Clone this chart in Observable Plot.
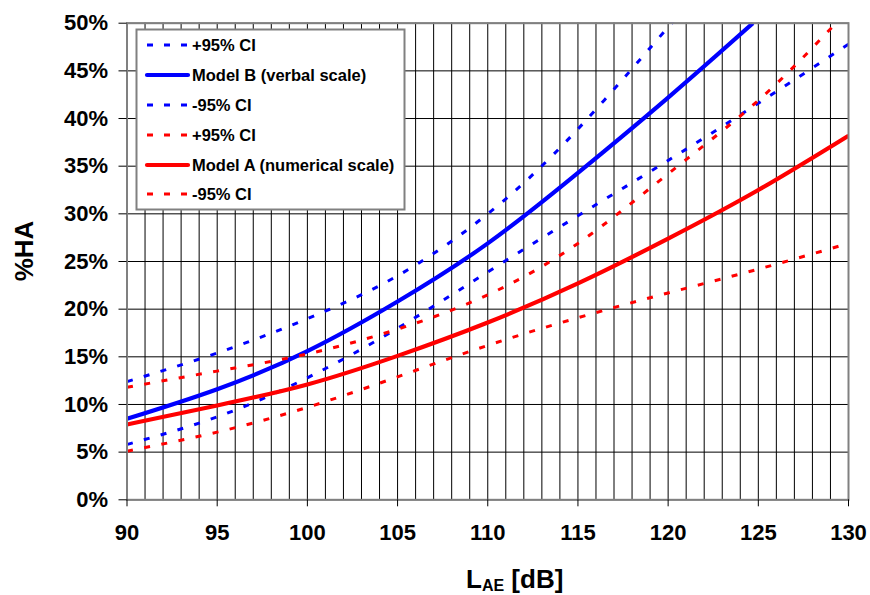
<!DOCTYPE html>
<html>
<head>
<meta charset="utf-8">
<script src="https://cdn.jsdelivr.net/npm/d3@7"></script>
<script src="https://cdn.jsdelivr.net/npm/@observablehq/plot@0.6"></script>
<style>
  html, body { margin: 0; padding: 0; background: #fff; }
  #chart svg { display: block; }
</style>
</head>
<body>
<div id="chart"></div>
<script>
// ---- data (L_AE in dB, %HA in percent) ----
const xTicks = [90, 95, 100, 105, 110, 115, 120, 125, 130];
const yTicks = [0, 5, 10, 15, 20, 25, 30, 35, 40, 45, 50];

const xBUpper = [90, 95, 100, 105, 110, 115, 120, 120.2];
const bUpper  = [12.4, 15.4, 19.0, 23.5, 30.0, 38.9, 49.6, 50.0];

const xBModel = [90, 95, 100, 105, 110, 115, 120, 124.7];
const bModel  = [8.5, 11.6, 15.6, 20.8, 26.9, 34.3, 42.2, 50.0];

const xBLower = [90, 95, 100, 105, 110, 115, 120, 125, 130];
const bLower  = [5.8, 8.7, 12.8, 18.0, 23.9, 29.8, 35.6, 41.6, 47.8];

const xAUpper = [90, 95, 100, 105, 110, 115, 120, 125, 129.3];
const aUpper  = [11.8, 13.5, 15.3, 17.9, 21.5, 26.9, 34.2, 41.9, 50.0];

const xAModel = [90, 95, 100, 105, 110, 115, 120, 125, 130];
const aModel  = [7.9, 9.9, 12.1, 15.1, 18.6, 22.7, 27.4, 32.5, 38.2];

const xALower = [90, 95, 100, 105, 110, 115, 120, 125, 130];
const aLower  = [5.1, 7.1, 9.7, 12.9, 16.2, 19.1, 21.7, 24.2, 26.9];

const legendLabels = ["+95% CI", "Model B (verbal scale)", "-95% CI", "+95% CI", "Model A (numerical scale)", "-95% CI"];
const legendColors = ["#0000ff", "#0000ff", "#0000ff", "#ff0000", "#ff0000", "#ff0000"];
const legendDashed = [true, false, true, true, false, true];

// ---- build tables ----
const toRows = (xs, ys) => xs.map((x, i) => ({x, y: ys[i]}));
const series = [
  {rows: toRows(xBUpper, bUpper), color: "#0000ff", dashed: true},
  {rows: toRows(xBModel, bModel), color: "#0000ff", dashed: false},
  {rows: toRows(xBLower, bLower), color: "#0000ff", dashed: true},
  {rows: toRows(xAUpper, aUpper), color: "#ff0000", dashed: true},
  {rows: toRows(xAModel, aModel), color: "#ff0000", dashed: false},
  {rows: toRows(xALower, aLower), color: "#ff0000", dashed: true}
];

const DASH = "6,11.5";

const lineMarks = series.map(s => Plot.line(s.rows, {
  x: "x", y: "y", curve: "natural", clip: true,
  stroke: s.color,
  strokeWidth: s.dashed ? 3 : 4.2,
  strokeDasharray: s.dashed ? DASH : null,
  strokeLinecap: "butt"
}));

const chart = Plot.plot({
  width: 870,
  height: 595,
  marginLeft: 126.5,
  marginRight: 22,
  marginTop: 22.7,
  marginBottom: 95.7,
  style: {fontFamily: "'Liberation Sans', Arial, sans-serif", fontSize: "22px", fontWeight: "bold", color: "#000", background: "#fff"},
  x: {domain: [90, 130], label: null},
  y: {domain: [0, 50], label: null},
  marks: [
    Plot.gridX(d3.range(90, 131, 1), {stroke: "#000", strokeOpacity: 1, strokeWidth: 1}),
    Plot.gridY(yTicks, {stroke: "#000", strokeOpacity: 1, strokeWidth: 1}),
    ...lineMarks,
    Plot.frame({stroke: "#808080", strokeWidth: 2}),
    Plot.axisX(xTicks, {tickSize: 7, tickPadding: 18, tickFormat: d => String(d), label: null, stroke: "#000"}),
    Plot.axisY(yTicks, {tickSize: 8, tickPadding: 11, tickFormat: d => d + "%", label: null, stroke: "#000"})
  ]
});

document.getElementById("chart").appendChild(chart);

const svg = d3.select(chart);

// ---- legend (inside the plot area, top-left) ----
const lg = svg.append("g").attr("class", "legend").attr("text-anchor", "start");
lg.append("rect")
  .attr("x", 136.5).attr("y", 29.5).attr("width", 268).attr("height", 180)
  .attr("fill", "#fff").attr("stroke", "#808080").attr("stroke-width", 2);
const rowY = [45, 75, 105, 135, 165, 194];
legendLabels.forEach((lab, i) => {
  const ln = lg.append("line")
    .attr("x1", 147).attr("x2", 188).attr("y1", rowY[i]).attr("y2", rowY[i])
    .attr("stroke", legendColors[i])
    .attr("stroke-width", legendDashed[i] ? 3 : 4.2)
    .attr("stroke-linecap", legendDashed[i] ? "butt" : "round");
  if (legendDashed[i]) ln.attr("stroke-dasharray", "6,11");
  lg.append("text")
    .attr("x", 192).attr("y", rowY[i]).attr("dy", "0.36em")
    .attr("text-anchor", "start")
    .attr("font-size", 16.5).attr("font-weight", "bold")
    .attr("font-family", "'Liberation Sans', Arial, sans-serif")
    .attr("fill", "#000")
    .text(lab);
});

// ---- axis titles ----
const xt = svg.append("text")
  .attr("x", 466).attr("y", 588)
  .attr("text-anchor", "start")
  .attr("font-size", 26).attr("font-weight", "bold")
  .attr("font-family", "'Liberation Sans', Arial, sans-serif")
  .attr("fill", "#000");
xt.append("tspan").text("L");
xt.append("tspan").attr("font-size", 16).attr("dy", 3).text("AE");
xt.append("tspan").attr("dy", -3).text("\u00a0[dB]");

svg.append("text")
  .attr("transform", "translate(33,251) rotate(-90)")
  .attr("text-anchor", "middle")
  .attr("font-size", 26).attr("font-weight", "bold")
  .attr("font-family", "'Liberation Sans', Arial, sans-serif")
  .attr("fill", "#000")
  .text("%HA");
</script>
</body>
</html>
